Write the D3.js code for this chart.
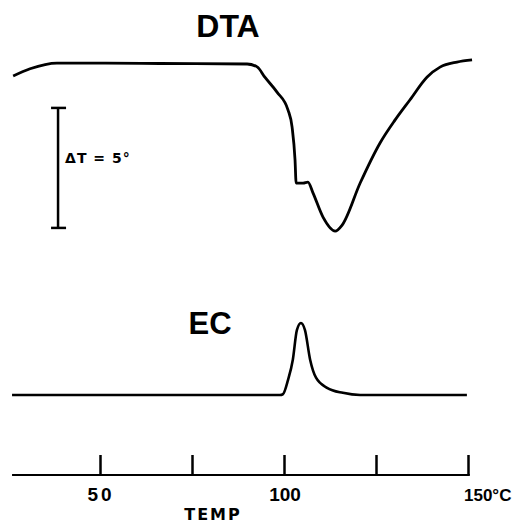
<!DOCTYPE html>
<html>
<head>
<meta charset="utf-8">
<script src="https://cdn.jsdelivr.net/npm/d3@7"></script>
<style>
  body { margin: 0; background: #fff; }
  text { fill: #000; }
</style>
</head>
<body>
<svg id="chart" width="513" height="523"></svg>
<script>
// DTA trace: temperature (°C) vs delta T (°)
var dtaTemp = [26.4, 31.0, 38.3, 50, 66.3, 90.0, 92.7, 94.8, 98.1, 101.1, 102.2, 103.0, 103.3, 105.2, 106.5, 107.9, 110.6, 113.9, 115.8, 120.7, 126.1, 130.2, 134.2, 138.9, 142.4, 147.0, 151.1];
var dtaDelta = [-0.5, -0.2, 0.04, 0.04, 0.02, 0, -0.12, -0.55, -1.17, -1.92, -2.63, -4.0, -4.96, -4.96, -4.92, -5.38, -6.38, -6.96, -6.71, -4.96, -3.29, -2.33, -1.5, -0.54, -0.13, 0.08, 0.17];

// EC trace: temperature (°C) vs relative signal
var ecTemp = [26.1, 98.9, 99.7, 101.1, 102.4, 103.5, 104.6, 105.7, 107.1, 108.7, 111.7, 116.0, 120.7, 149.7];
var ecSignal = [0, 0, 0.01, 0.21, 0.49, 0.9, 1.0, 0.9, 0.49, 0.24, 0.1, 0.03, 0, 0];

var tickValues = [50, 75, 100, 125, 150];
var tickLabels = ['50', '', '100', '', '150°C'];
var axisRange = [26.1, 150.5];
var scaleBar = [-1.83, -6.83];   // 5 degree reference bar

var svg = d3.select('#chart');

var x = d3.scaleLinear().domain([50, 150]).range([100, 468]);
var yDta = d3.scaleLinear().domain([0, -5]).range([64, 184]);
var yEc = d3.scaleLinear().domain([0, 1]).range([395, 323]);

var dtaLine = d3.line()
    .x(function (d) { return x(d[0]); })
    .y(function (d) { return yDta(d[1]); })
    .curve(d3.curveMonotoneX);

var ecLine = d3.line()
    .x(function (d) { return x(d[0]); })
    .y(function (d) { return yEc(d[1]); })
    .curve(d3.curveMonotoneX);

svg.append('path')
    .datum(d3.zip(dtaTemp, dtaDelta))
    .attr('d', dtaLine)
    .attr('fill', 'none')
    .attr('stroke', '#000')
    .attr('stroke-width', 2.8)
    .attr('stroke-linejoin', 'round');

svg.append('path')
    .datum(d3.zip(ecTemp, ecSignal))
    .attr('d', ecLine)
    .attr('fill', 'none')
    .attr('stroke', '#000')
    .attr('stroke-width', 2.6)
    .attr('stroke-linejoin', 'round');

// delta T scale bar
var barX = x(38.6);
var bar = svg.append('g').attr('stroke', '#000');
bar.append('line')
    .attr('x1', barX).attr('x2', barX)
    .attr('y1', yDta(scaleBar[0])).attr('y2', yDta(scaleBar[1]))
    .attr('stroke-width', 2.5);
scaleBar.forEach(function (v) {
    bar.append('line')
        .attr('x1', barX - 7).attr('x2', barX + 8)
        .attr('y1', yDta(v)).attr('y2', yDta(v))
        .attr('stroke-width', 2.5);
});
svg.append('text')
    .attr('x', barX + 7)
    .attr('y', 163)
    .style('font-family', 'DejaVu Sans')
    .style('font-weight', 'bold')
    .style('font-size', '14px')
    .style('letter-spacing', '1px')
    .text('ΔT = 5°');

// titles
svg.append('text')
    .attr('x', 228).attr('y', 37)
    .attr('text-anchor', 'middle')
    .style('font-family', 'Liberation Sans')
    .style('font-weight', 'bold')
    .style('font-size', '32px')
    .text('DTA');

svg.append('text')
    .attr('x', 210).attr('y', 334)
    .attr('text-anchor', 'middle')
    .style('font-family', 'Liberation Sans')
    .style('font-weight', 'bold')
    .style('font-size', '31px')
    .text('EC');

// temperature axis
svg.append('line')
    .attr('x1', x(axisRange[0])).attr('x2', x(axisRange[1]))
    .attr('y1', 475).attr('y2', 475)
    .attr('stroke', '#000')
    .attr('stroke-width', 2.2);

var axis = svg.append('g')
    .attr('transform', 'translate(0,475)')
    .call(d3.axisTop(x).tickValues(tickValues).tickSize(20).tickFormat(''));
axis.select('.domain').remove();
axis.selectAll('.tick line').attr('stroke', '#000').attr('stroke-width', 2.5);

svg.selectAll('.ticklabel')
    .data(tickValues.filter(function (d, i) { return tickLabels[i] !== ''; }))
    .enter().append('text')
    .attr('class', 'ticklabel')
    .attr('x', function (d) { return d === 150 ? x(d) - 4 : x(d) + 1; })
    .attr('y', 501)
    .attr('text-anchor', function (d) { return d === 150 ? 'start' : 'middle'; })
    .style('font-family', 'Liberation Sans')
    .style('font-weight', 'bold')
    .style('font-size', function (d) { return d === 150 ? '17px' : '19px'; })
    .style('letter-spacing', function (d) { return d === 50 ? '3px' : '0px'; })
    .text(function (d) { return tickLabels[tickValues.indexOf(d)]; });

svg.append('text')
    .attr('x', 213).attr('y', 520)
    .attr('text-anchor', 'middle')
    .style('font-family', 'DejaVu Sans')
    .style('font-weight', 'bold')
    .style('font-size', '16px')
    .style('letter-spacing', '2px')
    .text('TEMP');
</script>
</body>
</html>
